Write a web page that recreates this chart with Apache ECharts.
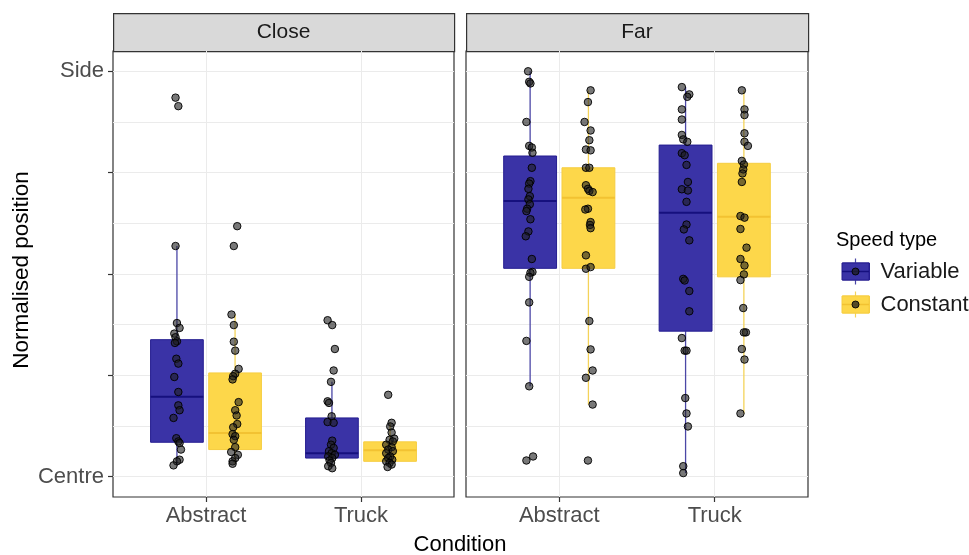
<!DOCTYPE html>
<html><head><meta charset="utf-8">
<script src="https://cdn.jsdelivr.net/npm/echarts@6/dist/echarts.min.js"></script>
<style>html,body{margin:0;padding:0;background:#fff}#c{width:969px;height:555px}</style>
</head><body><div id="c"></div>
<script>
// ---------- data ----------
const panels = ['Close', 'Far'];
const conditions = ['Abstract', 'Truck'];
const speedTypes = ['Variable', 'Constant'];
const yTickValues = [0, 0.25, 0.5, 0.75, 1];
const yGridValues = [0, 0.125, 0.25, 0.375, 0.5, 0.625, 0.75, 0.875, 1];
const yTickLabels = { 0: 'Centre', 1: 'Side' };

// box statistics: [lower whisker, q1, median, q3, upper whisker]
const boxCloseAbstractVariable = [0.028, 0.085, 0.197, 0.338, 0.569];
const boxCloseAbstractConstant = [0.032, 0.067, 0.108, 0.256, 0.400];
const boxCloseTruckVariable    = [0.021, 0.046, 0.058, 0.145, 0.234];
const boxCloseTruckConstant    = [0.024, 0.038, 0.065, 0.086, 0.133];
const boxFarAbstractVariable   = [0.223, 0.514, 0.680, 0.791, 1.000];
const boxFarAbstractConstant   = [0.178, 0.514, 0.688, 0.762, 0.953];
const boxFarTruckVariable      = [0.009, 0.359, 0.651, 0.818, 0.961];
const boxFarTruckConstant      = [0.156, 0.493, 0.641, 0.773, 0.953];

// individual observations (normalised position) and their horizontal jitter
const valsCloseAbstractVariable = [0.935,0.914,0.569,0.379,0.367,0.353,0.344,0.334,0.330,0.291,0.279,0.246,0.209,0.176,0.164,0.145,0.095,0.087,0.083,0.067,0.042,0.038,0.028];
const jitCloseAbstractVariable  = [-0.009,0.009,-0.009,0,0.017,-0.017,-0.009,0,-0.013,-0.004,0.009,-0.017,0.009,0.009,0.017,-0.022,-0.004,0.009,0.017,0.026,0.017,0,-0.022];
const valsCloseAbstractConstant = [0.618,0.569,0.400,0.374,0.333,0.311,0.266,0.254,0.248,0.240,0.184,0.164,0.151,0.130,0.122,0.105,0.100,0.091,0.073,0.061,0.054,0.046,0.038,0.032];
const jitCloseAbstractConstant  = [0.014,-0.008,-0.023,-0.008,-0.008,0.001,0.023,0.001,-0.012,-0.016,0.023,0.001,0.010,0.014,-0.012,-0.016,0.001,-0.008,0.001,-0.025,0.018,0.001,-0.016,-0.016];
const valsCloseTruckVariable = [0.386,0.374,0.315,0.262,0.234,0.186,0.182,0.149,0.135,0.133,0.089,0.079,0.071,0.063,0.058,0.054,0.050,0.046,0.040,0.034,0.026,0.021];
const jitCloseTruckVariable  = [-0.028,0.002,0.019,0.011,-0.006,-0.028,-0.019,-0.002,-0.028,0.011,0.002,-0.006,0.011,-0.019,-0.002,0.019,-0.024,0.002,-0.015,-0.006,-0.024,0.002];
const valsCloseTruckConstant = [0.202,0.133,0.124,0.109,0.094,0.091,0.087,0.079,0.073,0.067,0.063,0.058,0.050,0.046,0.042,0.038,0.034,0.030,0.024];
const jitCloseTruckConstant  = [-0.012,0.010,0.001,0.010,0.027,-0.003,0.018,-0.025,0.010,-0.012,0.018,-0.025,0.001,-0.012,0.014,-0.025,-0.003,0.010,-0.016];
const valsFarAbstractVariable = [1.0,0.974,0.970,0.875,0.816,0.812,0.799,0.762,0.729,0.723,0.710,0.692,0.684,0.672,0.661,0.655,0.635,0.605,0.593,0.537,0.505,0.503,0.493,0.430,0.335,0.223,0.040,0.050];
const jitFarAbstractVariable  = [-0.013,-0.006,0.002,-0.024,-0.006,0.011,0.015,0.011,0.002,-0.006,-0.011,-0.002,-0.011,-0.002,-0.019,-0.024,0.002,-0.011,-0.028,0.011,0.015,0.002,-0.006,-0.006,-0.024,-0.006,-0.024,0.019];
const valsFarAbstractConstant = [0.953,0.924,0.875,0.854,0.830,0.807,0.805,0.762,0.762,0.719,0.710,0.705,0.702,0.661,0.659,0.628,0.621,0.613,0.546,0.513,0.517,0.384,0.314,0.262,0.244,0.178,0.040];
const jitFarAbstractConstant  = [0.014,-0.003,-0.025,0.014,0.006,-0.016,0.014,-0.016,0.006,-0.016,-0.003,0.006,0.027,-0.003,-0.020,0.014,0.010,0.014,-0.016,-0.016,0.014,0.006,0.014,0.027,-0.016,0.027,-0.003];
const valsFarTruckVariable = [0.961,0.943,0.937,0.906,0.881,0.843,0.832,0.826,0.798,0.793,0.769,0.727,0.709,0.706,0.678,0.622,0.610,0.583,0.488,0.484,0.458,0.408,0.342,0.311,0.311,0.194,0.156,0.124,0.026,0.009];
const jitFarTruckVariable  = [-0.024,0.024,0.011,-0.024,-0.024,-0.024,-0.015,0.011,-0.024,-0.006,0.006,0.015,-0.024,0.015,0.006,0.006,-0.011,0.024,-0.015,-0.006,0.024,0.024,-0.024,-0.006,0.006,-0.002,0.006,0.015,-0.015,-0.015];
const valsFarTruckConstant = [0.953,0.906,0.892,0.847,0.826,0.816,0.779,0.770,0.758,0.748,0.727,0.643,0.639,0.611,0.565,0.537,0.521,0.499,0.485,0.416,0.356,0.356,0.315,0.289,0.156];
const jitFarTruckConstant  = [-0.013,0.004,0.004,0.004,0.004,0.026,-0.013,0,-0.004,-0.009,-0.013,-0.022,0.004,-0.022,0.017,-0.022,0.004,0,-0.022,-0.004,0.013,0,-0.013,0.004,-0.022];

// ---------- assembly ----------
const boxes = [
  [[boxCloseAbstractVariable, boxCloseTruckVariable], [boxCloseAbstractConstant, boxCloseTruckConstant]],
  [[boxFarAbstractVariable, boxFarTruckVariable], [boxFarAbstractConstant, boxFarTruckConstant]]
];
const points = [
  [[[valsCloseAbstractVariable, jitCloseAbstractVariable], [valsCloseTruckVariable, jitCloseTruckVariable]],
   [[valsCloseAbstractConstant, jitCloseAbstractConstant], [valsCloseTruckConstant, jitCloseTruckConstant]]],
  [[[valsFarAbstractVariable, jitFarAbstractVariable], [valsFarTruckVariable, jitFarTruckVariable]],
   [[valsFarAbstractConstant, jitFarAbstractConstant], [valsFarTruckConstant, jitFarTruckConstant]]]
];

const BOX_W = 0.34, DODGE = [-0.1875, 0.1875];
const FILL = ['#3a33a6', '#fdd74a'];
const STROKE = ['#241d90', '#f6cd40'];
const MEDIAN = ['#16107e', '#f2c232'];
const WHISK = ['#4b47a6', '#f4d35a'];
const FONT = 'Liberation Sans, Arial, sans-serif';
const Y_MIN = -0.05, Y_MAX = 1.05;
const gridPos = [{ left: 113, width: 341 }, { left: 466, width: 342 }];
const GRID_TOP = 51, GRID_H = 446;

function renderBox(s) {
  return function (params, api) {
    const x = api.value(0);
    const c = i => api.coord([x, api.value(i)]);
    const lo = c(1), q1 = c(2), md = c(3), q3 = c(4), hi = c(5);
    const w = api.size([BOX_W, 0])[0];
    const cx = lo[0];
    return { type: 'group', children: [
      { type: 'line', shape: { x1: cx, y1: hi[1], x2: cx, y2: q3[1] }, style: { stroke: WHISK[s], lineWidth: 1.3 } },
      { type: 'line', shape: { x1: cx, y1: q1[1], x2: cx, y2: lo[1] }, style: { stroke: WHISK[s], lineWidth: 1.3 } },
      { type: 'rect', shape: { x: cx - w / 2, y: q3[1], width: w, height: q1[1] - q3[1] }, style: { fill: FILL[s], stroke: STROKE[s], lineWidth: 1 } },
      { type: 'line', shape: { x1: cx - w / 2, y1: md[1], x2: cx + w / 2, y2: md[1] }, style: { stroke: MEDIAN[s], lineWidth: 2 } }
    ] };
  };
}

const grid = [], xAxis = [], yAxis = [], series = [], graphic = [];
panels.forEach((pName, p) => {
  grid.push({ left: gridPos[p].left, width: gridPos[p].width, top: GRID_TOP, height: GRID_H,
    show: true, backgroundColor: '#fff', borderColor: '#333', borderWidth: 1.2 });
  xAxis.push({ type: 'value', gridIndex: p, min: 0.4, max: 2.6, position: 'bottom',
    axisLine: { show: false, onZero: false },
    axisTick: { show: true, length: 5, lineStyle: { color: '#333', width: 1.2 }, customValues: [1, 2] },
    axisLabel: { customValues: [1, 2], formatter: v => conditions[Math.round(v) - 1], color: '#4d4d4d', fontSize: 22, fontFamily: FONT, margin: 8 },
    splitLine: { show: true, lineStyle: { color: '#ebebeb', width: 1 } } });
  yAxis.push({ type: 'value', gridIndex: p, min: Y_MIN, max: Y_MAX,
    axisLine: { show: false, onZero: false },
    axisTick: { show: false, customValues: yGridValues },
    axisLabel: { show: false, customValues: yGridValues },
    splitLine: { show: true, lineStyle: { color: '#ebebeb', width: 1 } } });
});
yAxis.push({ type: 'value', gridIndex: 0, min: Y_MIN, max: Y_MAX, position: 'left',
  axisLine: { show: false, onZero: false },
  axisTick: { show: true, length: 5, lineStyle: { color: '#333', width: 1.2 }, customValues: yTickValues },
  axisLabel: { customValues: [0, 1], formatter: v => yTickLabels[Math.round(v)] || '', color: '#4d4d4d', fontSize: 22, fontFamily: FONT, margin: 9 },
  splitLine: { show: false } });

panels.forEach((pName, p) => {
  speedTypes.forEach((sName, s) => {
    series.push({ type: 'custom', name: sName, xAxisIndex: p, yAxisIndex: p, z: 3,
      itemStyle: { color: FILL[s] },
      renderItem: renderBox(s),
      encode: { x: 0, y: [1, 2, 3, 4, 5] },
      data: boxes[p][s].map((b, i) => [i + 1 + DODGE[s]].concat(b)) });
  });
  speedTypes.forEach((sName, s) => {
    const data = [];
    points[p][s].forEach(([vals, jit], i) => {
      vals.forEach((v, k) => data.push([i + 1 + DODGE[s] + jit[k], v]));
    });
    series.push({ type: 'scatter', name: 'pts-' + sName, xAxisIndex: p, yAxisIndex: p, z: 5,
      symbolSize: 7.5, silent: true,
      itemStyle: { color: 'rgba(30,30,30,0.6)', borderColor: 'rgba(0,0,0,0.9)', borderWidth: 1, opacity: 1 },
      data });
  });
  graphic.push({ type: 'rect', left: gridPos[p].left, top: 13, shape: { width: gridPos[p].width, height: 38 },
    style: { fill: '#d9d9d9', stroke: '#333', lineWidth: 1.2 } });
  graphic.push({ type: 'text', x: gridPos[p].left + gridPos[p].width / 2, y: 32,
    style: { text: pName, font: '21px ' + FONT, fill: '#1a1a1a', textAlign: 'center', textVerticalAlign: 'middle' } });
});

graphic.push({ type: 'text', x: 460, y: 545, style: { text: 'Condition', font: '22px ' + FONT, fill: '#000', textAlign: 'center', textVerticalAlign: 'middle' } });
graphic.push({ type: 'text', x: 22, y: 270, rotation: Math.PI / 2,
  style: { text: 'Normalised position', font: '22.5px ' + FONT, fill: '#000', textAlign: 'center', textVerticalAlign: 'middle' } });
graphic.push({ type: 'text', x: 836, y: 240, style: { text: 'Speed type', font: '20px ' + FONT, fill: '#000', textAlign: 'left', textVerticalAlign: 'middle' } });

// legend key decorations (whisker, median and point glyph as in the reference key)
const keyCy = [271.5, 304.5];
speedTypes.forEach((n, s) => {
  graphic.push({ type: 'line', z: 100, shape: { x1: 855.5, y1: keyCy[s] - 13, x2: 855.5, y2: keyCy[s] + 13 }, style: { stroke: WHISK[s], lineWidth: 1.2 } });
  graphic.push({ type: 'rect', z: 100, shape: { x: 842, y: keyCy[s] - 8.5, width: 27, height: 17 }, style: { fill: FILL[s], stroke: STROKE[s], lineWidth: 1 } });
  graphic.push({ type: 'line', z: 100, shape: { x1: 842, y1: keyCy[s], x2: 869, y2: keyCy[s] }, style: { stroke: MEDIAN[s], lineWidth: 1.5 } });
  graphic.push({ type: 'circle', z: 101, shape: { cx: 855.5, cy: keyCy[s], r: 3.5 }, style: { fill: 'rgba(30,30,30,0.75)', stroke: 'rgba(0,0,0,0.9)', lineWidth: 1 } });
});

const chart = echarts.init(document.getElementById('c'), null, { renderer: 'canvas' });
chart.setOption({
  backgroundColor: '#fff',
  animation: false,
  grid, xAxis, yAxis, series, graphic,
  legend: { orient: 'vertical', left: 842, top: 259.5, padding: 0, itemGap: 9,
    itemWidth: 27, itemHeight: 17, icon: 'rect',
    textStyle: { fontSize: 22, lineHeight: 24, fontFamily: FONT, color: '#1a1a1a', padding: [0, 0, 0, 6] },
    data: speedTypes.map((n, s) => ({ name: n, itemStyle: { color: FILL[s], borderColor: STROKE[s], borderWidth: 1 } })) }
});
</script></body></html>
